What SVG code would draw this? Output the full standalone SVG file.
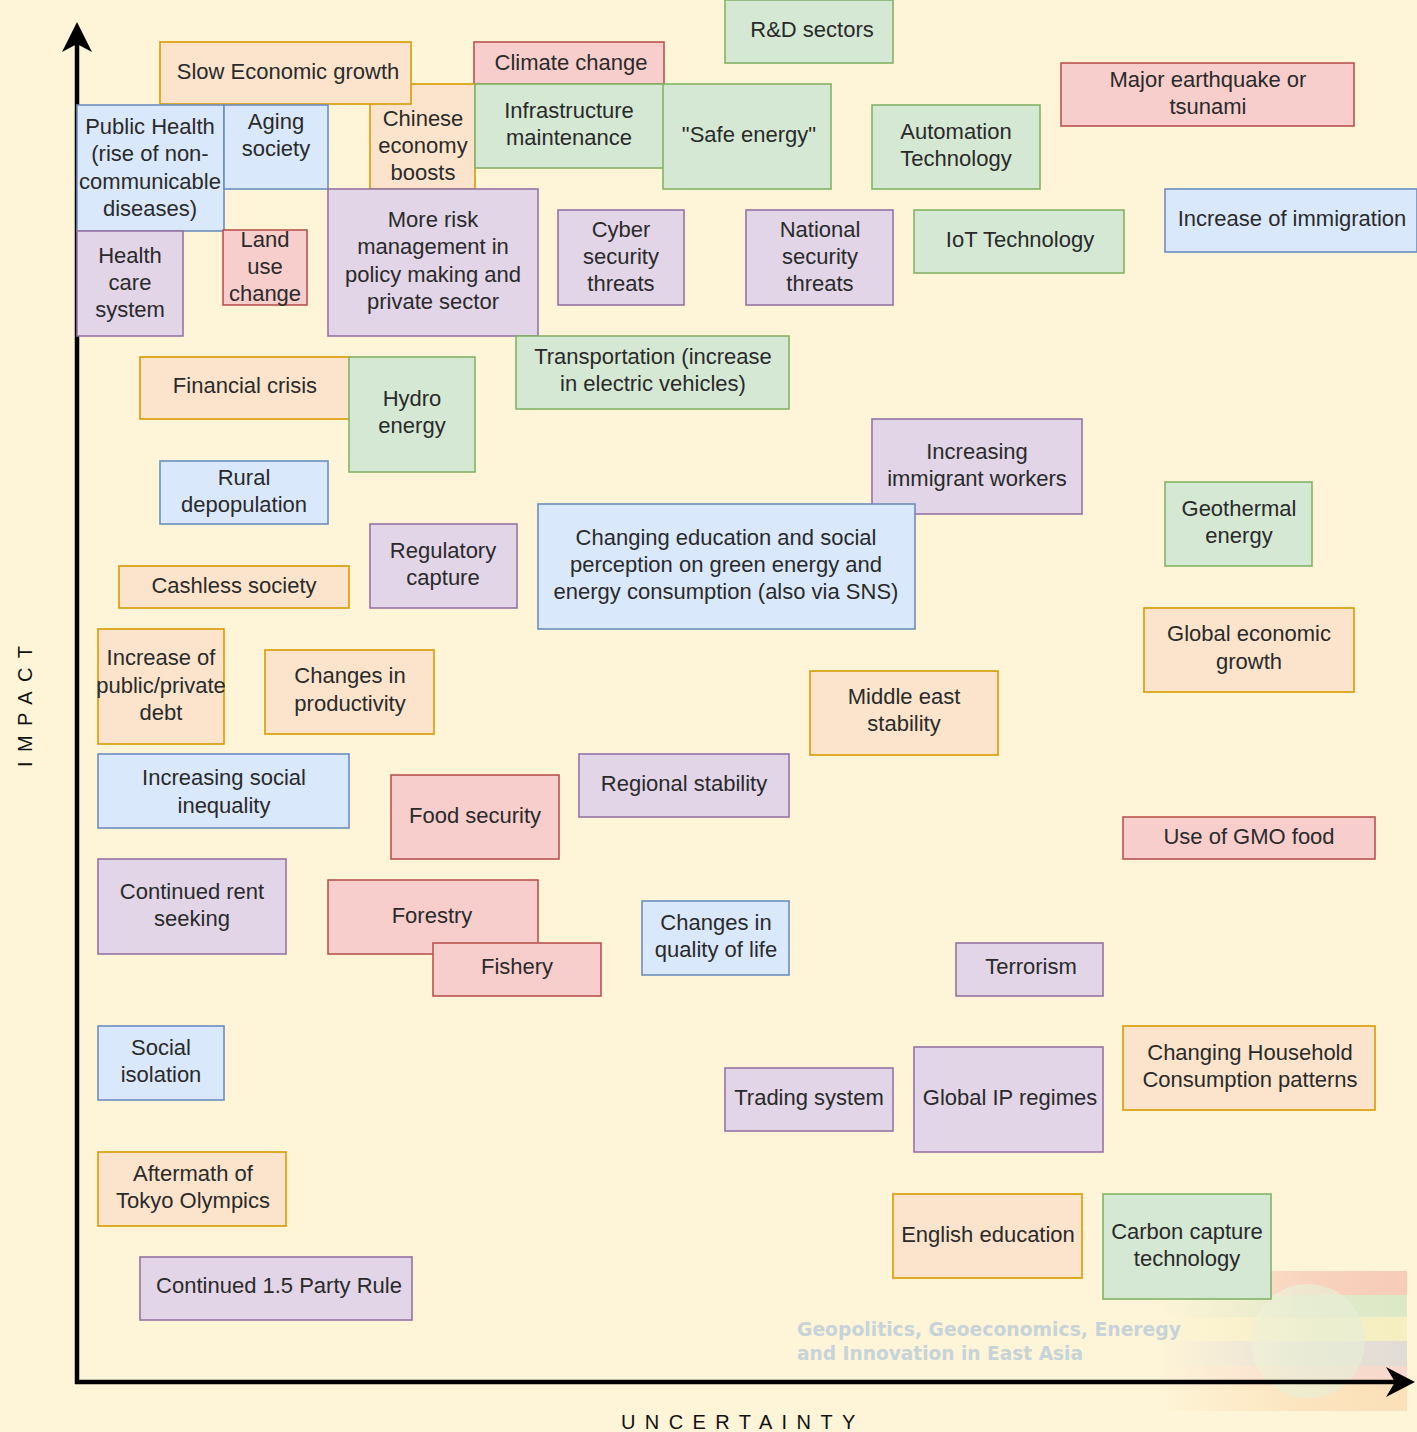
<svg xmlns="http://www.w3.org/2000/svg" width="1417" height="1432" viewBox="0 0 1417 1432">
<style>
  .n rect{stroke-width:1.6}
  .o rect{fill:#fce4cc;stroke:#d79b00}
  .b rect{fill:#dae8fc;stroke:#6c8ebf}
  .g rect{fill:#d5e8d4;stroke:#82b366}
  .r rect{fill:#f8cecc;stroke:#b85450}
  .p rect{fill:#e1d5e7;stroke:#9673a6}
  .n text{font-family:"Liberation Sans",Arial,sans-serif;font-size:22px;fill:#2a2a2a;text-anchor:middle;dominant-baseline:central}
  .ax{font-family:"Liberation Sans",Arial,sans-serif;font-size:20px;fill:#111;letter-spacing:9.4px}
  .wm{font-family:"DejaVu Sans",Verdana,sans-serif;font-weight:bold;font-size:20px;fill:#c6d3d8}
</style>
<defs>
  <linearGradient id="fade" x1="0" y1="0" x2="1" y2="0">
    <stop offset="0" stop-color="#fef4d7" stop-opacity="1"/>
    <stop offset="0.6" stop-color="#fef4d7" stop-opacity="0.2"/>
    <stop offset="1" stop-color="#fef4d7" stop-opacity="0"/>
  </linearGradient>
</defs>
<rect x="0" y="0" width="1417" height="1432" fill="#fef4d7"/>

<g id="watermark">
  <rect x="1157" y="1271" width="250" height="24" fill="#f7cbb8"/>
  <rect x="1157" y="1295" width="250" height="22" fill="#dbe8c6"/>
  <rect x="1157" y="1317" width="250" height="24" fill="#f4eec0"/>
  <rect x="1157" y="1341" width="250" height="25" fill="#e2dcd6"/>
  <rect x="1157" y="1366" width="250" height="17" fill="#f8d8cc"/>
  <rect x="1157" y="1383" width="250" height="28" fill="#fbe0b8"/>
  <circle cx="1308" cy="1341" r="57" fill="#e4ecd6" opacity="0.7"/>
  <rect x="1157" y="1271" width="250" height="140" fill="url(#fade)"/>
  <text class="wm" x="797" y="1336" textLength="384" lengthAdjust="spacingAndGlyphs">Geopolitics, Geoeconomics, Eneregy</text>
  <text class="wm" x="797" y="1360" textLength="286" lengthAdjust="spacingAndGlyphs">and Innovation in East Asia</text>
</g>

<g id="connectors">
  <line x1="77" y1="1384" x2="77" y2="44" stroke="#000" stroke-width="4.5"/>
  <path d="M77,22 L62,52 L77,44 L92,52 Z" fill="#000"/>
  <line x1="75" y1="1382" x2="1396" y2="1382" stroke="#000" stroke-width="4.5"/>
  <path d="M1415,1382 L1386,1367 L1395,1382 L1386,1397 Z" fill="#000"/>
</g>

<text class="ax" x="0" y="0" transform="translate(32,767) rotate(-90)">IMPACT</text>
<text class="ax" x="621" y="1429">UNCERTAINTY</text>

<g id="n-climate" class="n r"><rect x="474" y="42" width="190" height="42"/><text x="571" y="62">Climate change</text></g>
<g id="n-chinese" class="n o"><rect x="370" y="84" width="105" height="105"/><text x="423" y="118">Chinese<tspan x="423" dy="27">economy</tspan><tspan x="423" dy="27">boosts</tspan></text></g>
<g id="n-slow" class="n o"><rect x="160" y="42" width="251" height="62"/><text x="288" y="71">Slow Economic growth</text></g>
<g id="n-rd" class="n g"><rect x="725" y="0" width="168" height="63"/><text x="812" y="29">R&amp;D sectors</text></g>
<g id="n-earthquake" class="n r"><rect x="1061" y="63" width="293" height="63"/><text x="1208" y="79">Major earthquake or<tspan x="1208" dy="27">tsunami</tspan></text></g>
<g id="n-publichealth" class="n b"><rect x="77" y="105" width="147" height="126"/><text x="150" y="126">Public Health<tspan x="150" dy="27.3">(rise of non-</tspan><tspan x="150" dy="27.3">communicable</tspan><tspan x="150" dy="27.3">diseases)</tspan></text></g>
<g id="n-aging" class="n b"><rect x="224" y="105" width="104" height="84"/><text x="276" y="121">Aging<tspan x="276" dy="27">society</tspan></text></g>
<g id="n-infra" class="n g"><rect x="475" y="84" width="189" height="84"/><text x="569" y="110">Infrastructure<tspan x="569" dy="27">maintenance</tspan></text></g>
<g id="n-safe" class="n g"><rect x="663" y="84" width="168" height="105"/><text x="749" y="134">"Safe energy"</text></g>
<g id="n-automation" class="n g"><rect x="872" y="105" width="168" height="84"/><text x="956" y="131">Automation<tspan x="956" dy="27">Technology</tspan></text></g>
<g id="n-risk" class="n p"><rect x="328" y="189" width="210" height="147"/><text x="433" y="219">More risk<tspan x="433" dy="27.3">management in</tspan><tspan x="433" dy="27.3">policy making and</tspan><tspan x="433" dy="27.3">private sector</tspan></text></g>
<g id="n-cyber" class="n p"><rect x="558" y="210" width="126" height="95"/><text x="621" y="229">Cyber<tspan x="621" dy="27">security</tspan><tspan x="621" dy="27">threats</tspan></text></g>
<g id="n-national" class="n p"><rect x="746" y="210" width="147" height="95"/><text x="820" y="229">National<tspan x="820" dy="27">security</tspan><tspan x="820" dy="27">threats</tspan></text></g>
<g id="n-iot" class="n g"><rect x="914" y="210" width="210" height="63"/><text x="1020" y="239">IoT Technology</text></g>
<g id="n-immigration" class="n b"><rect x="1165" y="189" width="252" height="63"/><text x="1292" y="218">Increase of immigration</text></g>
<g id="n-healthcare" class="n p"><rect x="77" y="231" width="106" height="105"/><text x="130" y="255">Health<tspan x="130" dy="27">care</tspan><tspan x="130" dy="27">system</tspan></text></g>
<g id="n-landuse" class="n r"><rect x="223" y="230" width="84" height="75"/><text x="265" y="239">Land<tspan x="265" dy="27">use</tspan><tspan x="265" dy="27">change</tspan></text></g>
<g id="n-financial" class="n o"><rect x="140" y="357" width="210" height="62"/><text x="245" y="385">Financial crisis</text></g>
<g id="n-hydro" class="n g"><rect x="349" y="357" width="126" height="115"/><text x="412" y="398">Hydro<tspan x="412" dy="27">energy</tspan></text></g>
<g id="n-transport" class="n g"><rect x="516" y="336" width="273" height="73"/><text x="653" y="356">Transportation (increase<tspan x="653" dy="27">in electric vehicles)</tspan></text></g>
<g id="n-immworkers" class="n p"><rect x="872" y="419" width="210" height="95"/><text x="977" y="451">Increasing<tspan x="977" dy="27">immigrant workers</tspan></text></g>
<g id="n-rural" class="n b"><rect x="160" y="461" width="168" height="63"/><text x="244" y="477">Rural<tspan x="244" dy="27">depopulation</tspan></text></g>
<g id="n-geothermal" class="n g"><rect x="1165" y="482" width="147" height="84"/><text x="1239" y="508">Geothermal<tspan x="1239" dy="27">energy</tspan></text></g>
<g id="n-education" class="n b"><rect x="538" y="504" width="377" height="125"/><text x="726" y="537">Changing education and social<tspan x="726" dy="27">perception on green energy and</tspan><tspan x="726" dy="27">energy consumption (also via SNS)</tspan></text></g>
<g id="n-regulatory" class="n p"><rect x="370" y="524" width="147" height="84"/><text x="443" y="550">Regulatory<tspan x="443" dy="27">capture</tspan></text></g>
<g id="n-cashless" class="n o"><rect x="119" y="566" width="230" height="42"/><text x="234" y="585">Cashless society</text></g>
<g id="n-globalgrowth" class="n o"><rect x="1144" y="608" width="210" height="84"/><text x="1249" y="633">Global economic<tspan x="1249" dy="28">growth</tspan></text></g>
<g id="n-debt" class="n o"><rect x="98" y="629" width="126" height="115"/><text x="161" y="657">Increase of<tspan x="161" dy="27.5">public/private</tspan><tspan x="161" dy="27.5">debt</tspan></text></g>
<g id="n-productivity" class="n o"><rect x="265" y="650" width="169" height="84"/><text x="350" y="675">Changes in<tspan x="350" dy="28">productivity</tspan></text></g>
<g id="n-middleeast" class="n o"><rect x="810" y="671" width="188" height="84"/><text x="904" y="696">Middle east<tspan x="904" dy="27">stability</tspan></text></g>
<g id="n-inequality" class="n b"><rect x="98" y="754" width="251" height="74"/><text x="224" y="777">Increasing social<tspan x="224" dy="28">inequality</tspan></text></g>
<g id="n-regional" class="n p"><rect x="579" y="754" width="210" height="63"/><text x="684" y="783">Regional stability</text></g>
<g id="n-food" class="n r"><rect x="391" y="775" width="168" height="84"/><text x="475" y="815">Food security</text></g>
<g id="n-gmo" class="n r"><rect x="1123" y="817" width="252" height="42"/><text x="1249" y="836">Use of GMO food</text></g>
<g id="n-rent" class="n p"><rect x="98" y="859" width="188" height="95"/><text x="192" y="891">Continued rent<tspan x="192" dy="27">seeking</tspan></text></g>
<g id="n-forestry" class="n r"><rect x="328" y="880" width="210" height="74"/><text x="432" y="915">Forestry</text></g>
<g id="n-fishery" class="n r"><rect x="433" y="943" width="168" height="53"/><text x="517" y="966">Fishery</text></g>
<g id="n-quality" class="n b"><rect x="642" y="901" width="147" height="74"/><text x="716" y="922">Changes in<tspan x="716" dy="27">quality of life</tspan></text></g>
<g id="n-terrorism" class="n p"><rect x="956" y="943" width="147" height="53"/><text x="1031" y="966">Terrorism</text></g>
<g id="n-isolation" class="n b"><rect x="98" y="1026" width="126" height="74"/><text x="161" y="1047">Social<tspan x="161" dy="27">isolation</tspan></text></g>
<g id="n-household" class="n o"><rect x="1123" y="1026" width="252" height="84"/><text x="1250" y="1052">Changing Household<tspan x="1250" dy="27">Consumption patterns</tspan></text></g>
<g id="n-ip" class="n p"><rect x="914" y="1047" width="189" height="105"/><text x="1010" y="1097">Global IP regimes</text></g>
<g id="n-trading" class="n p"><rect x="725" y="1068" width="168" height="63"/><text x="809" y="1097">Trading system</text></g>
<g id="n-olympics" class="n o"><rect x="98" y="1152" width="188" height="74"/><text x="193" y="1173">Aftermath of<tspan x="193" dy="27">Tokyo Olympics</tspan></text></g>
<g id="n-english" class="n o"><rect x="893" y="1194" width="189" height="84"/><text x="988" y="1234">English education</text></g>
<g id="n-carbon" class="n g"><rect x="1103" y="1194" width="168" height="105"/><text x="1187" y="1231">Carbon capture<tspan x="1187" dy="27">technology</tspan></text></g>
<g id="n-party" class="n p"><rect x="140" y="1257" width="272" height="63"/><text x="279" y="1285">Continued 1.5 Party Rule</text></g>
</svg>
